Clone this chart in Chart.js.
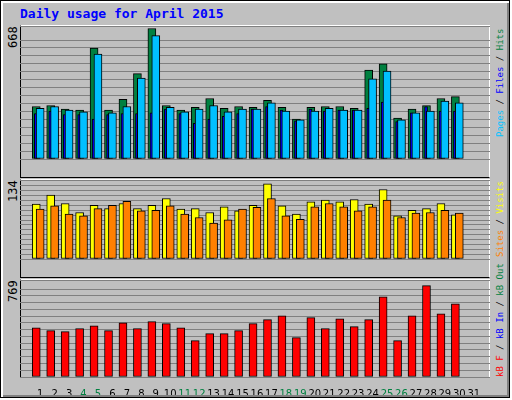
<!DOCTYPE html>
<html>
<head>
<meta charset="utf-8">
<script src="https://cdn.jsdelivr.net/npm/chart.js@4.4.0/dist/chart.umd.min.js"></script>
<style>
  body { margin: 0; }
  #frame { position: absolute; left: 0; top: 0; width: 508px; height: 396px; background: #c0c0c0;
           border: 1px solid #000; box-shadow: inset 2px 2px 0 #fff, inset -2px -2px 0 #808080; }
  .panel { position: absolute; left: 20px; width: 470px; border-top: 1px solid #fff; border-right: 1px solid #fff;
           border-left: 1px solid #000; border-bottom: 1px solid #000; box-sizing: border-box; }
  canvas { position: absolute; }
  .t { position: absolute; font-family: "DejaVu Sans Mono", monospace; font-size: 12px; white-space: nowrap;
       transform-origin: 0 0; transform: rotate(-90deg); }
  .r { font-size: 9px; }
  #title { position: absolute; left: 20px; top: 6px; font: bold 13px "DejaVu Sans Mono", monospace; color: #0000ff; }
</style>
</head>
<body>
<div id="frame"></div>
<div id="title">Daily usage for April 2015</div>
<div class="panel" style="top:25px;height:153px"></div>
<div class="panel" style="top:179px;height:99px"></div>
<div class="panel" style="top:279px;height:99px"></div>
<div class="t" style="left:6px;top:48px">668</div>
<div class="t" style="left:6px;top:202px">134</div>
<div class="t" style="left:6px;top:302px">769</div>
<div class="t r" style="left:495px;top:137px"><span style="color:#00c0ff">Pages</span> / <span style="color:#0000ff">Files</span> / <span style="color:#008040">Hits</span></div>
<div class="t r" style="left:495px;top:257px"><span style="color:#ff8000">Sites</span> / <span style="color:#ffff00">Visits</span></div>
<div class="t r" style="left:495px;top:377px"><span style="color:#ff0000">kB F</span> / <span style="color:#0000ff">kB In</span> / <span style="color:#008040">kB Out</span></div>
<canvas id="c1" style="left:20px;top:26px" width="470" height="151"></canvas>
<canvas id="c2" style="left:20px;top:180px" width="470" height="97"></canvas>
<canvas id="c3" style="left:20px;top:280px" width="470" height="115"></canvas>
<script>
var days = [];
for (var d = 1; d <= 30; d++) days.push(d);
var tickDays = days.concat([31]);
var weekendDays = [4, 5, 11, 12, 18, 19, 25, 26];

var hits  = [269,274,255,251,568,251,305,437,668,274,251,264,310,260,269,264,301,264,205,264,269,269,260,455,487,210,255,274,310,319];
var files = [260,269,251,242,537,237,269,414,632,264,242,255,274,242,255,255,287,246,201,246,260,251,251,410,450,201,237,246,296,287];
var pages = [233,246,228,228,205,228,233,233,237,255,233,183,205,219,233,255,269,251,196,255,246,251,251,260,292,192,237,269,246,246];
var visits = [98,114,99,83,96,90,99,90,96,108,89,90,83,93,86,96,134,95,80,102,105,102,106,98,124,77,87,90,99,79];
var sites  = [89,95,80,77,90,96,103,86,87,95,80,74,64,70,89,92,108,77,71,93,99,93,86,93,105,74,82,83,87,82];
var kbytes = [415,390,382,407,432,390,457,407,466,449,415,306,365,365,390,449,483,516,331,500,407,491,424,483,676,306,516,769,533,617];

function pts(values, off) {
  return values.map(function (v, i) { return { x: days[i] + off, y: v }; });
}
function ds(values, off, color, width) {
  return { data: pts(values, off), backgroundColor: color, borderColor: '#000', borderWidth: 1,
           borderSkipped: false, barThickness: width, grouped: false };
}
// first dataset ends up on top, so front-most series go first
function makeChart(id, datasets, yMax, step, showX) {
  new Chart(document.getElementById(id), {
    type: 'bar',
    data: { datasets: datasets },
    options: {
      responsive: false, animation: false,
      layout: { padding: 0 },
      plugins: { legend: { display: false }, tooltip: { enabled: false } },
      scales: {
        x: {
          type: 'linear', min: 0.13, max: 31.6, display: showX,
          grid: { display: false }, border: { display: false },
          afterFit: function (s) { s.height = 18; },
          afterBuildTicks: function (s) { s.ticks = tickDays.map(function (v) { return { value: v }; }); },
          ticks: {
            autoSkip: false, maxRotation: 0, padding: 3,
            font: { family: 'DejaVu Sans', size: 10 },
            color: function (c) { return weekendDays.indexOf(c.tick.value) >= 0 ? '#008040' : '#000'; },
            callback: function (v) { return v; }
          }
        },
        y: {
          min: 0, max: yMax, display: true,
          afterFit: function (s) { s.width = 0; },
          border: { display: false },
          ticks: { display: false, stepSize: step },
          grid: { color: '#808080', lineWidth: 1, drawTicks: false }
        }
      }
    }
  });
}

makeChart('c1', [
  ds(files, 0, '#00c0ff', 8),
  ds(pages, -0.3, '#0000ff', 3),
  ds(hits, -0.27, '#008040', 8)
], 681, 40.6, false);

makeChart('c2', [
  ds(sites, 0, '#ff8000', 8),
  ds(visits, -0.27, '#ffff00', 8)
], 141, 8.7, false);

makeChart('c3', [
  ds(kbytes, -0.27, '#ff0000', 8)
], 817, 57, true);
</script>
</body>
</html>
